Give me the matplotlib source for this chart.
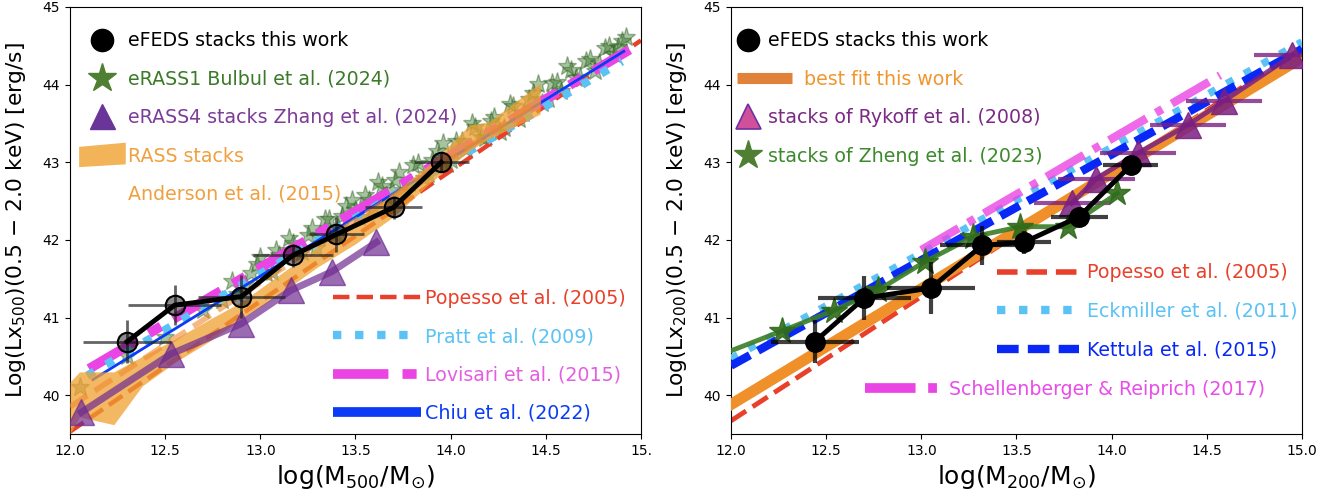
import numpy as np
import matplotlib
matplotlib.use('Agg')
import matplotlib.pyplot as plt
from matplotlib.lines import Line2D
from matplotlib.patches import Patch, Polygon
from matplotlib.legend_handler import HandlerLine2D, HandlerPatch

# ---------------- Left panel (M500) ----------------
efeds500_x = [12.30, 12.55, 12.90, 13.17, 13.40, 13.70, 13.95]
efeds500_y = [40.69, 41.16, 41.27, 41.80, 42.07, 42.42, 43.00]
efeds500_xerr = [0.23, 0.245, 0.23, 0.21, 0.145, 0.15, 0.145]
efeds500_yerr = [0.28, 0.26, 0.28, 0.15, 0.22, 0.15, 0.13]

bulbul_x = [12.05, 12.30, 12.50, 12.70, 12.80, 12.85, 12.92, 12.98, 13.03, 13.08,
            13.12, 13.17, 13.22, 13.27, 13.31, 13.36, 13.41, 13.45, 13.50, 13.55,
            13.59, 13.64, 13.69, 13.73, 13.78, 13.83, 13.88, 13.93, 13.98, 14.03,
            14.08, 14.13, 14.18, 14.23, 14.28, 14.33, 14.38, 14.43, 14.48, 14.53,
            14.58, 14.63, 14.68, 14.73, 14.78, 14.83, 14.88, 14.92,
            12.88, 12.95, 13.00, 13.06, 13.10, 13.15, 13.20, 13.25, 13.29, 13.34,
            13.39, 13.43, 13.48, 13.52, 13.57, 13.62, 13.66, 13.71, 13.76, 13.80,
            13.86, 13.90, 13.96, 14.00, 14.06, 14.11, 14.16, 14.21, 14.26, 14.31,
            14.36, 14.41, 14.46, 14.51, 14.56, 14.61, 14.66, 14.71, 14.76, 14.81,
            14.86, 14.90]
bulbul_y = [40.10, 40.50, 40.75, 41.10, 41.22, 41.47, 41.43, 41.69, 41.57, 41.87,
            41.78, 41.96, 41.84, 42.15, 42.04, 42.27, 42.15, 42.44, 42.39, 42.58,
            42.40, 42.70, 42.64, 42.87, 42.73, 42.99, 42.85, 43.14, 42.98, 43.28,
            43.17, 43.45, 43.31, 43.58, 43.44, 43.73, 43.63, 43.89, 43.76, 44.02,
            43.92, 44.19, 44.10, 44.33, 44.28, 44.50, 44.48, 44.62,
            41.30, 41.57, 41.78, 41.59, 41.80, 42.03, 41.86, 42.06, 41.90, 42.27,
            42.08, 42.31, 42.51, 42.30, 42.52, 42.75, 42.56, 42.77, 42.62, 42.97,
            42.80, 43.03, 43.25, 43.03, 43.27, 43.50, 43.32, 43.53, 43.39, 43.75,
            43.56, 43.81, 44.01, 43.81, 44.04, 44.24, 44.09, 44.30, 44.17, 44.47,
            44.40, 44.56]

zhang_x = [12.06, 12.53, 12.90, 13.16, 13.375, 13.61]
zhang_y = [39.78, 40.53, 40.92, 41.35, 41.59, 41.97]

rass_x = [12.0, 12.05, 12.23, 12.38, 12.55, 12.75, 12.9, 13.1, 13.3, 13.5, 13.7, 13.9, 14.1, 14.2, 14.47]
rass_lo = [39.5, 39.72, 39.62, 40.12, 40.42, 40.72, 40.98, 41.3, 41.65, 41.95, 42.3, 42.75, 43.15, 43.3, 43.62]
rass_hi = [40.17, 40.3, 40.3, 40.5, 40.72, 41.0, 41.2, 41.55, 41.9, 42.25, 42.6, 43.0, 43.48, 43.52, 44.02]
anderson_x = [12.0, 14.47]
anderson_y = [39.85, 43.80]

popesso500_x = [12.0, 15.0]
popesso500_y = [39.53, 44.57]
pratt_x = [12.09, 14.90]
pratt_y = [40.25, 44.30]
lovisari_x = [12.10, 14.94]
lovisari_y = [40.34, 44.45]
chiu_x = [12.12, 14.91]
chiu_y = [40.20, 44.43]

# ---------------- Right panel (M200) ----------------
efeds200_x = [12.44, 12.70, 13.05, 13.32, 13.54, 13.83, 14.10]
efeds200_y = [40.69, 41.25, 41.38, 41.93, 41.97, 42.30, 42.96]
efeds200_xerr = [0.23, 0.245, 0.23, 0.22, 0.14, 0.15, 0.145]
efeds200_yerr = [0.28, 0.28, 0.33, 0.25, 0.15, 0.10, 0.10]

rykoff_x = [13.79, 13.92, 14.14, 14.40, 14.59, 14.95]
rykoff_y = [42.47, 42.79, 43.12, 43.48, 43.79, 44.38]
rykoff_xerr = [0.2, 0.2, 0.2, 0.2, 0.2, 0.2]

zheng_x = [11.80, 12.27, 12.54, 12.77, 13.02, 13.27, 13.52, 13.77, 14.03]
zheng_y = [40.38, 40.83, 41.09, 41.35, 41.72, 42.04, 42.17, 42.17, 42.60]

bestfit_x = [12.0, 15.0]
bestfit_y = [39.88, 44.35]
popesso200_x = [12.0, 15.0]
popesso200_y = [39.67, 44.47]
eckmiller_x = [12.0, 15.0]
eckmiller_y = [40.47, 44.55]
kettula_x = [12.0, 15.0]
kettula_y = [40.38, 44.46]
schellen_x = [13.0, 14.57]
schellen_y = [41.87, 44.12]

xticks = [12.0, 12.5, 13.0, 13.5, 14.0, 14.5, 15.0]
xticklabels_left = ['12.0', '12.5', '13.0', '13.5', '14.0', '14.5', '15.']
xticklabels_right = ['12.0', '12.5', '13.0', '13.5', '14.0', '14.5', '15.0']
yticks = [40, 41, 42, 43, 44, 45]

# colours
C_RED = '#e8402a'
C_CYAN = '#5bc2f5'
C_MAG = '#ea45e4'
C_BLUE = '#0a3cf5'
C_KET = '#0a28f5'
C_ORANGE = '#f0a030'
C_BEST = '#f0902a'
C_GREEN = '#3a7d25'
C_PURPLE = '#6f2c91'
C_RYK = '#7a1f82'

LOV_DASH = (0, (5.7, 1.45, 1.45, 1.45))
SCH_DASH = (0, (5.2, 1.3, 0.9, 1.3))
KET_DASH = (0, (2.6, 1.1))

LFS = 13.7
LSP = 1.02

fig = plt.figure(figsize=(13.44, 4.99), dpi=100)
H = 499.0
W = 1344.0
ax1 = fig.add_axes([70 / W, (H - 434) / H, 571 / W, 427 / H])
ax2 = fig.add_axes([731 / W, (H - 434) / H, 571 / W, 427 / H])

# ---------- Left ----------
ax1.plot(bulbul_x, bulbul_y, ls='none', marker='*', ms=14, color='#2f7020',
         mec='#2a5a1a', alpha=0.42, zorder=1)
ax1.plot(popesso500_x, popesso500_y, ls='--', lw=3.2, color=C_RED, zorder=2)
ax1.plot(lovisari_x, lovisari_y, ls=LOV_DASH, lw=7, color=C_MAG, zorder=3)
ax1.plot(pratt_x, pratt_y, ls=':', lw=6, color=C_CYAN, zorder=4)
ax1.plot(chiu_x, chiu_y, ls='-', lw=2, color=C_BLUE, zorder=5)
ax1.fill_between(rass_x, rass_lo, rass_hi, color=C_ORANGE, alpha=0.75, lw=0, zorder=6)
ax1.plot(anderson_x, anderson_y, ls='--', lw=4, color='#f08a30', alpha=0.6, zorder=6)
ax1.plot(zhang_x, zhang_y, ls='-', lw=5, color=C_PURPLE, alpha=0.7, marker='^',
         ms=19, zorder=7)
ax1.errorbar(efeds500_x, efeds500_y, xerr=efeds500_xerr, yerr=efeds500_yerr,
             fmt='none', ecolor='#222222', elinewidth=2, alpha=0.7, zorder=8)
ax1.plot(efeds500_x, efeds500_y, '-', color='black', lw=3.5, zorder=9)
ax1.plot(efeds500_x, efeds500_y, 'o', ms=14, mfc=(0, 0, 0, 0.45), mec='black',
         mew=1.5, ls='none', zorder=10)


def rass_patch(legend, orig_handle, xdescent, ydescent, width, height, fontsize):
    x0, y0 = -xdescent, -ydescent
    return Polygon([[x0, y0 - 4], [x0 + width, y0 - 2], [x0 + width, y0 + height + 4],
                    [x0, y0 + height + 1]], closed=True)


h_efeds = Line2D([], [], ls='none', marker='o', ms=16, color='black')
h_bulbul = Line2D([], [], ls='none', marker='*', ms=21, color='#4f7f33')
h_zhang = Line2D([], [], ls='none', marker='^', ms=18, color='#6a3598')
h_rass = Patch(facecolor=C_ORANGE, alpha=0.8, lw=0)
h_empty = Line2D([], [], ls='none', color='none')
leg1 = ax1.legend([h_efeds, h_bulbul, h_zhang, h_rass, h_empty],
                  ['eFEDS stacks this work', 'eRASS1 Bulbul et al. (2024)',
                   'eRASS4 stacks Zhang et al. (2024)', 'RASS stacks',
                   'Anderson et al. (2015)'],
                  handler_map={h_rass: HandlerPatch(patch_func=rass_patch)},
                  loc='upper left', bbox_to_anchor=(0.016, 0.943), borderaxespad=0,
                  borderpad=0, frameon=False, fontsize=LFS, handlelength=2.45,
                  handletextpad=0.12, labelspacing=LSP,
                  labelcolor=['black', '#3a7a28', '#7d3c98', '#f0a040', '#f0a040'])
ax1.add_artist(leg1)

h_pop = Line2D([], [], ls='--', lw=3.2, color=C_RED)
h_pratt = Line2D([], [], ls=':', lw=6, color=C_CYAN)
h_lov = Line2D([], [], ls=LOV_DASH, lw=7, color=C_MAG)
h_chiu = Line2D([], [], ls='-', lw=7, color=C_BLUE, solid_capstyle='butt')
ax1.legend([h_pop, h_pratt, h_lov, h_chiu],
           ['Popesso et al. (2005)', 'Pratt et al. (2009)', 'Lovisari et al. (2015)',
            'Chiu et al. (2022)'],
           loc='lower left', bbox_to_anchor=(0.4606, 0.026), borderaxespad=0,
           borderpad=0, frameon=False, fontsize=LFS, handlelength=4.6,
           handletextpad=0.26, labelspacing=LSP,
           labelcolor=[C_RED, C_CYAN, '#e45ee0', C_BLUE])

# ---------- Right ----------
ax2.plot(popesso200_x, popesso200_y, ls='--', lw=3.5, color=C_RED, zorder=2)
ax2.plot(bestfit_x, bestfit_y, ls='-', lw=8, color=C_BEST, zorder=3)
ax2.plot(eckmiller_x, eckmiller_y, ls=':', lw=5.5, color=C_CYAN, zorder=4)
ax2.plot(kettula_x, kettula_y, ls=KET_DASH, lw=6, color=C_KET, zorder=5)
ax2.plot(schellen_x, schellen_y, ls=SCH_DASH, lw=6, color=C_MAG, alpha=0.8, zorder=6)
ax2.errorbar(rykoff_x, rykoff_y, xerr=rykoff_xerr, fmt='none', ecolor=C_RYK,
             elinewidth=3, alpha=0.8, zorder=7)
ax2.plot(rykoff_x, rykoff_y, '-', color=C_RYK, lw=3.5, alpha=0.85, marker='^', ms=19,
         zorder=8)
ax2.plot(zheng_x, zheng_y, '-', color=C_GREEN, lw=3.5, marker='*', ms=20,
         mfc='#2f6b1a', mec='#2f6b1a', alpha=0.9, zorder=9)
ax2.errorbar(efeds200_x, efeds200_y, xerr=efeds200_xerr, yerr=efeds200_yerr,
             fmt='none', ecolor='black', elinewidth=3, alpha=0.75, zorder=10)
ax2.plot(efeds200_x, efeds200_y, '-', color='black', lw=3.5, marker='o', ms=14,
         zorder=11)


class LongLine(HandlerLine2D):
    def __init__(self, factor, **kw):
        super().__init__(**kw)
        self.factor = factor

    def create_artists(self, legend, orig_handle, xdescent, ydescent, width, height,
                       fontsize, trans):
        return super().create_artists(legend, orig_handle, xdescent, ydescent,
                                      width * self.factor, height, fontsize, trans)


h2_efeds = Line2D([], [], ls='none', marker='o', ms=16, color='black')
h2_best = Line2D([], [], ls='-', lw=8, color='#e0823a', solid_capstyle='butt')
h2_ryk = Line2D([], [], ls='none', marker='^', ms=18, mfc='#d0509a', mec='#7030a0',
                mew=1.2)
h2_zheng = Line2D([], [], ls='none', marker='*', ms=21, color='#4f7f33')
leg3 = ax2.legend([h2_efeds, h2_best, h2_ryk, h2_zheng],
                  ['eFEDS stacks this work', '      best fit this work',
                   'stacks of Rykoff et al. (2008)', 'stacks of Zheng et al. (2023)'],
                  handler_map={h2_best: LongLine(2.5)},
                  loc='upper left', bbox_to_anchor=(0.0105, 0.943), borderaxespad=0,
                  borderpad=0, frameon=False, fontsize=LFS, handlelength=1.16,
                  handletextpad=0.47, labelspacing=LSP,
                  labelcolor=['black', '#f0962e', '#7b2a85', '#3c8a2c'])
ax2.add_artist(leg3)

h2_pop = Line2D([], [], ls='--', lw=4, color=C_RED)
h2_eck = Line2D([], [], ls=':', lw=6, color=C_CYAN)
h2_ket = Line2D([], [], ls=KET_DASH, lw=6, color=C_KET)
leg4 = ax2.legend([h2_pop, h2_eck, h2_ket],
                  ['Popesso et al. (2005)', 'Eckmiller et al. (2011)', 'Kettula et al. (2015)'],
                  loc='lower left', bbox_to_anchor=(0.466, 0.175), borderaxespad=0,
                  borderpad=0, frameon=False, fontsize=LFS, handlelength=4.3,
                  handletextpad=0.4, labelspacing=LSP,
                  labelcolor=[C_RED, C_CYAN, C_KET])
ax2.add_artist(leg4)

h2_sch = Line2D([], [], ls=SCH_DASH, lw=7, color=C_MAG)
ax2.legend([h2_sch], ['Schellenberger & Reiprich (2017)'],
           loc='lower left', bbox_to_anchor=(0.2347, 0.082), borderaxespad=0,
           borderpad=0, frameon=False, fontsize=LFS, handlelength=3.9,
           handletextpad=0.5, labelcolor=['#e84ee8'])

for ax, xtl, sub in [(ax1, xticklabels_left, '500'), (ax2, xticklabels_right, '200')]:
    ax.set_xlim(12.0, 15.0)
    ax.set_ylim(39.5, 45.0)
    ax.set_xticks(xticks)
    ax.set_xticklabels(xtl)
    ax.set_yticks(yticks)
    ax.tick_params(labelsize=10)
    ax.set_xlabel(r'log(M$_{%s}$/M$_{\odot}$)' % sub, fontsize=18)
    ax.set_ylabel(r'Log(Lx$_{%s}$)(0.5 $-$ 2.0 keV) [erg/s]' % sub, fontsize=15.7)
    ax.yaxis.set_label_coords(-0.074, 0.5)

fig.savefig('out.png', dpi=100)
